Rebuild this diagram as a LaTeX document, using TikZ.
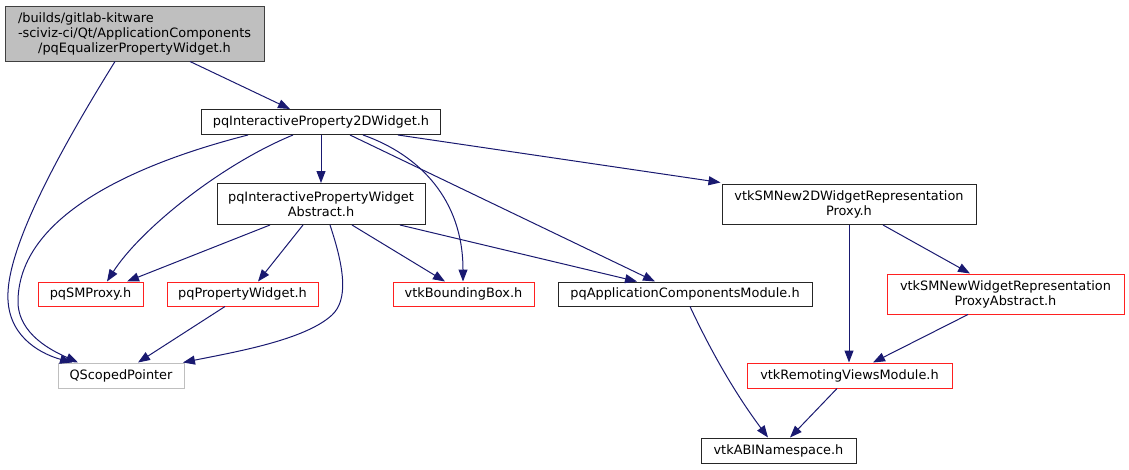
\documentclass[tikz,border=0pt]{standalone}
\usepackage{fontspec}
\setmainfont{DejaVu Sans}
\usetikzlibrary{arrows.meta}
\definecolor{edgec}{HTML}{191970}
\definecolor{rootfill}{HTML}{BFBFBF}
\definecolor{rootdraw}{HTML}{404040}
\definecolor{greyb}{HTML}{BFBFBF}
\definecolor{redc}{HTML}{FF2020}
\begin{document}
\begin{tikzpicture}[x=1pt,y=-1pt,
  box/.style={draw=black, line width=1pt, inner sep=0pt, font=\fontsize{12.9}{15}\selectfont, align=center, fill=white, text=black},
  blk/.style={box, draw=black!85},
  redb/.style={box, draw=redc},
  grayb/.style={box, draw=greyb},
  rootb/.style={box, draw=rootdraw, fill=rootfill},
  edge/.style={draw=edgec, line width=1pt, -{Triangle[length=12pt,width=9pt]}}]
\useasboundingbox (0,0) rectangle (1129,469);
% nodes
\node[rootb, minimum width=259pt, minimum height=55pt] (root) at (134.5,33.5)
  {\rlap{/builds/gitlab-kitware}\phantom{-sciviz-ci/Qt/ApplicationComponents}\\-sciviz-ci/Qt/ApplicationComponents\\/pqEqualizerPropertyWidget.h};
\node[blk, minimum width=239pt, minimum height=25pt] (w2d) at (321,122) {pqInteractiveProperty2DWidget.h};
\node[blk, minimum width=208pt, minimum height=41pt] (abs) at (321,204) {pqInteractivePropertyWidget\\Abstract.h};
\node[blk, minimum width=254pt, minimum height=40pt] (new2d) at (849,204.5) {vtkSMNew2DWidgetRepresentation\\Proxy.h};
\node[redb, minimum width=105pt, minimum height=24pt] (smproxy) at (90.5,294) {pqSMProxy.h};
\node[redb, minimum width=151pt, minimum height=24pt] (propw) at (242.5,294) {pqPropertyWidget.h};
\node[redb, minimum width=141pt, minimum height=24pt] (bbox) at (463.5,294) {vtkBoundingBox.h};
\node[blk, minimum width=254pt, minimum height=24pt] (appcomp) at (685,294) {pqApplicationComponentsModule.h};
\node[redb, minimum width=237pt, minimum height=40pt] (proxyabs) at (1005.5,294) {vtkSMNewWidgetRepresentation\\ProxyAbstract.h};
\node[grayb, minimum width=126pt, minimum height=25pt] (qsp) at (121,375.5) {QScopedPointer};
\node[redb, minimum width=205pt, minimum height=25pt] (remoting) at (849.5,375.5) {vtkRemotingViewsModule.h};
\node[blk, minimum width=155pt, minimum height=25pt] (abi) at (778.5,450.5) {vtkABINamespace.h};
% edges
\draw[edge] ([xshift=55.5pt]root.south) -- ([xshift=-31pt]w2d.north);
\draw[edge] ([xshift=-19.5pt]root.south) .. controls (60,150) and (5,250) .. (8,300)
  .. controls (10,340) and (45,355) .. ([xshift=-49pt]qsp.north);
\draw[edge] ([xshift=-73pt]w2d.south) .. controls (150,160) and (20,210) .. (18,300)
  .. controls (17,335) and (55,352) .. ([xshift=-43pt]qsp.north);
\draw[edge] ([xshift=-28pt]w2d.south) .. controls (220,165) and (140,230) .. ([xshift=16.5pt]smproxy.north);
\draw[edge] (w2d.south) -- (abs.north);
\draw[edge] ([xshift=42pt]w2d.south) .. controls (420,155) and (463,200) .. ([xshift=-0.5pt]bbox.north);
\draw[edge] ([xshift=29pt]w2d.south) -- ([xshift=-30pt]appcomp.north);
\draw[edge] ([xshift=77pt]w2d.south) -- ([yshift=1.5pt,xshift=-1pt]new2d.north west);
\draw[edge] ([xshift=-51pt]abs.south) -- ([xshift=36.5pt]smproxy.north);
\draw[edge] ([xshift=-18pt]abs.south) -- ([xshift=15.5pt]propw.north);
\draw[edge] ([xshift=9pt]abs.south) .. controls (345,270) and (348,300) .. (332,315)
  .. controls (305,340) and (235,352) .. ([xshift=62pt]qsp.north);
\draw[edge] ([xshift=31pt]abs.south) -- ([xshift=-18.5pt]bbox.north);
\draw[edge] ([xshift=79pt]abs.south) -- ([xshift=-48pt]appcomp.north);
\draw[edge] ([xshift=-17.5pt]propw.south) -- ([xshift=17pt]qsp.north);
\draw[edge] (new2d.south) -- ([xshift=-0.5pt]remoting.north);
\draw[edge] ([xshift=34pt]new2d.south) -- ([xshift=-35.5pt]proxyabs.north);
\draw[edge] ([xshift=-37.5pt]proxyabs.south) -- ([xshift=23.5pt]remoting.north);
\draw[edge] ([xshift=5pt]appcomp.south) .. controls (715,360) and (740,400) .. ([xshift=-10.5pt]abi.north);
\draw[edge] ([xshift=-12.5pt]remoting.south) -- ([xshift=11.5pt]abi.north);
\end{tikzpicture}
\end{document}
